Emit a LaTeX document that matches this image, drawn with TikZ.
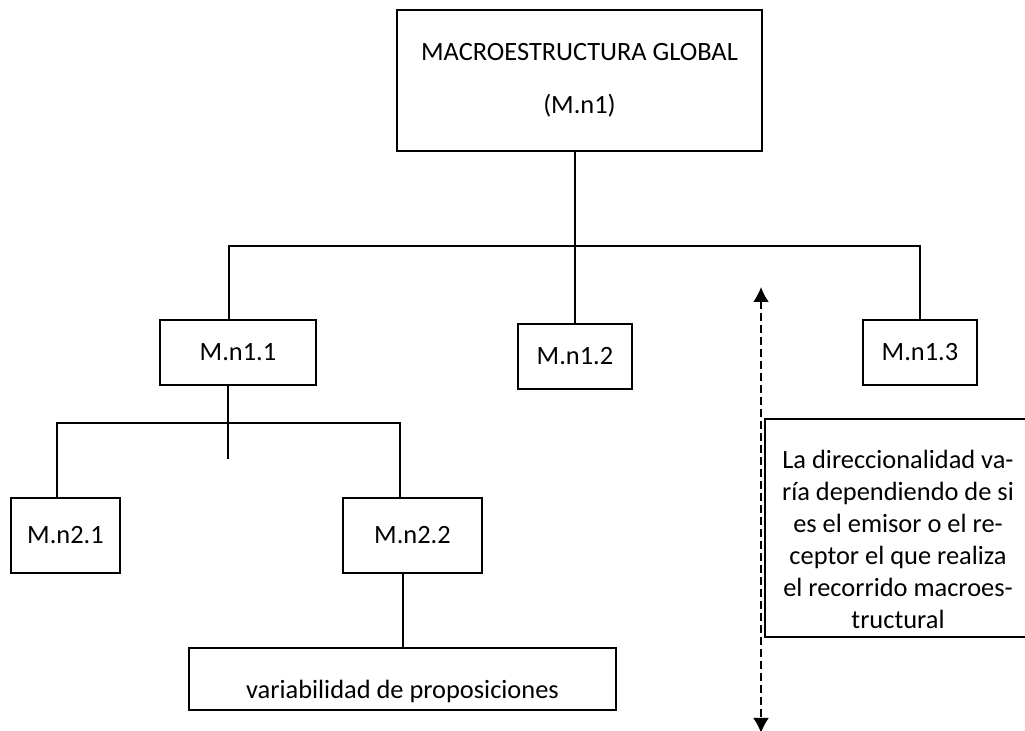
\documentclass[tikz,border=0pt]{standalone}
\usepackage{fontspec}
\setmainfont{Carlito}
\usetikzlibrary{arrows.meta,positioning}

\begin{document}
\begin{tikzpicture}[x=0.5pt, y=-0.5pt,
        box/.style={draw, line width=1pt, inner sep=0pt, align=center, font=\fontsize{13.2}{16}\selectfont},
        link/.style={line width=1pt}]
        \useasboundingbox (0,0) rectangle (1025,731);
        \clip (0,0) rectangle (1025,731);
        \coordinate (bar1) at (575,246);
        \coordinate (bar2) at (228,423);
        \coordinate (stub) at (228,459);
        \coordinate (dirtop) at (761,287);
        \coordinate (dirbot) at (761,733);

        % Boxes.
        \node[box, minimum width=182.5pt, minimum height=70.5pt] (top) at (579.5,80.5) {MACROESTRUCTURA GLOBAL\\[10.5pt](M.n1)};
        \node[box, minimum width=78pt, minimum height=32.5pt] (n11) at (238,352.5) {M.n1.1};
        \node[box, minimum width=57pt, minimum height=32.5pt] (n12) at (575,356.5) {M.n1.2};
        \node[box, minimum width=57pt, minimum height=32.5pt] (n13) at (920,352.5) {M.n1.3};
        \node[box, minimum width=54.5pt, minimum height=37.5pt] (n21) at (65.5,535.5) {M.n2.1};
        \node[box, minimum width=69.5pt, minimum height=37.5pt] (n22) at (412.5,535.5) {M.n2.2};
        \node[box, minimum width=213.5pt, minimum height=31pt] (var) at (402.5,679) {\raisebox{-10pt}[0pt][0pt]{variabilidad de proposiciones}};
        \node[box, minimum width=133pt, minimum height=109pt] (note) at (898,528) {\raisebox{-10pt}[0pt][0pt]{\begin{tabular}{@{}c@{}}La direccionalidad va-\\ría dependiendo de si\\es el emisor o el re-\\ceptor el que realiza\\el recorrido macroes-\\tructural\end{tabular}}};

        % Tree lines.
        \draw[link] (top.south -| n12.north) -- (n12.north);
        \draw[link] ([xshift=-4.5pt]n11.north) |- (bar1) -| (n13.north);
        \draw[link] ([xshift=-5pt]n11.south) -- (stub);
        \draw[link] ([xshift=-4.25pt]n21.north) |- (bar2) -| ([xshift=-6.25pt]n22.north);
        \draw[link] (n22.south -| var.north) -- (var.north);

        % Direction.
        \draw[link, dash pattern=on 4pt off 2pt, {Latex[length=7.5pt,width=8pt]}-{Latex[length=7.5pt,width=8pt]}] (dirtop) -- (dirbot);
    \end{tikzpicture}
\end{document}
